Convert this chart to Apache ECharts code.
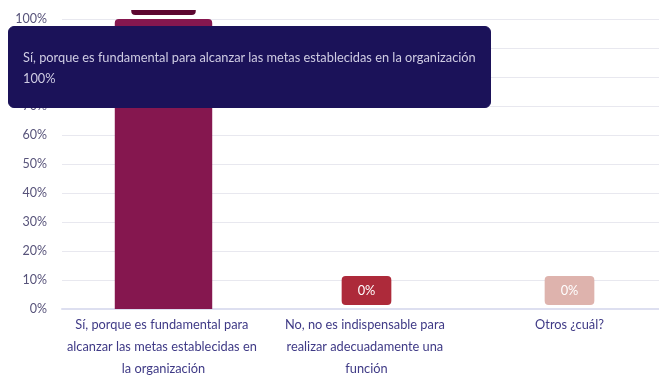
<!DOCTYPE html>
<html>
<head>
<meta charset="utf-8">
<script src="https://cdn.jsdelivr.net/npm/echarts@6/dist/echarts.min.js"></script>
<style>
  html, body { margin: 0; padding: 0; background: #fff; overflow: hidden; }
  #chart { width: 659px; height: 375px; }
</style>
</head>
<body>
<div id="chart"></div>
<script>
// Respuestas de la encuesta (porcentaje de cada opción)
const categories = [
  'Sí, porque es fundamental para alcanzar las metas establecidas en la organización',
  'No, no es indispensable para realizar adecuadamente una función',
  'Otros ¿cuál?'
];
const values = [100, 0, 0];
const barColors = ['#85174f', '#ad2a3a', '#deb3ad'];
const labelColors = ['#5c0630', '#ad2a3a', '#deb3ad'];
const yTicks = { min: 0, max: 100, interval: 10 };

const FONT = 'Lato, sans-serif';
const FS = 12.8;

const chart = echarts.init(document.getElementById('chart'), null, { renderer: 'canvas' });

chart.setOption({
  animation: false,
  textStyle: { fontFamily: FONT },
  grid: { left: 62, right: -12, top: 19, bottom: 66, containLabel: false, outerBoundsMode: 'none' },
  // white band across the very top edge of the canvas
  graphic: [{
    type: 'rect', left: 0, top: 0, z: 100,
    shape: { width: 659, height: 10 },
    style: { fill: '#ffffff' }
  }],
  tooltip: {
    trigger: 'item',
    alwaysShowContent: true,
    position: [8, 26],
    backgroundColor: '#1b1259',
    borderColor: '#1b1259',
    borderWidth: 1,
    padding: [20, 14, 18, 14],
    extraCssText: 'border-radius:6px;box-shadow:none;',
    textStyle: { color: '#cfcce3', fontSize: FS, fontFamily: FONT },
    formatter: p => '<div style="line-height:21px">' + p.name + '<br>' + p.value + '%</div>'
  },
  xAxis: {
    type: 'category',
    data: categories,
    axisLine: { lineStyle: { color: '#dddff0', width: 2 } },
    axisTick: { show: false },
    axisLabel: {
      color: '#3f3a86',
      fontSize: FS,
      fontFamily: FONT,
      lineHeight: 22,
      margin: 5,
      width: 200,
      overflow: 'break',
      interval: 0
    }
  },
  yAxis: {
    type: 'value',
    min: yTicks.min,
    max: yTicks.max,
    interval: yTicks.interval,
    axisLabel: { formatter: '{value}%', color: '#57537a', fontSize: 12.5, margin: 15, fontFamily: FONT },
    splitLine: { lineStyle: { color: '#e8e8ef', width: 1 } },
    axisLine: { show: false },
    axisTick: { show: false }
  },
  series: [{
    type: 'bar',
    barWidth: '48%',
    data: values.map((v, i) => ({
      value: v,
      itemStyle: { color: barColors[i], borderRadius: [4, 4, 0, 0] },
      label: { backgroundColor: labelColors[i] }
    })),
    label: {
      show: true,
      position: 'top',
      distance: 4,
      formatter: '{c}%',
      color: '#ffffff',
      fontSize: FS,
      fontFamily: FONT,
      padding: [8, 16],
      borderRadius: 4
    },
    emphasis: { disabled: true }
  }]
});

chart.dispatchAction({ type: 'showTip', seriesIndex: 0, dataIndex: 0 });
</script>
</body>
</html>
